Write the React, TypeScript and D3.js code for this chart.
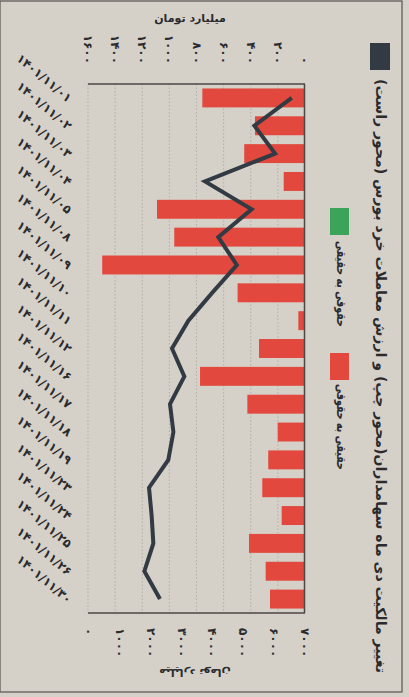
import React from "react";
import * as d3 from "d3";

const dates = [
  "۱۴۰۱/۱۱/۰۱", "۱۴۰۱/۱۱/۰۲", "۱۴۰۱/۱۱/۰۳", "۱۴۰۱/۱۱/۰۴", "۱۴۰۱/۱۱/۰۵",
  "۱۴۰۱/۱۱/۰۸", "۱۴۰۱/۱۱/۰۹", "۱۴۰۱/۱۱/۱۰", "۱۴۰۱/۱۱/۱۱", "۱۴۰۱/۱۱/۱۲",
  "۱۴۰۱/۱۱/۱۶", "۱۴۰۱/۱۱/۱۷", "۱۴۰۱/۱۱/۱۸", "۱۴۰۱/۱۱/۱۹", "۱۴۰۱/۱۱/۲۳",
  "۱۴۰۱/۱۱/۲۴", "۱۴۰۱/۱۱/۲۵", "۱۴۰۱/۱۱/۲۶", "۱۴۰۱/۱۱/۳۰",
];
// ownership change (real to legal), billion toman (left axis)
const realToLegal = [757, 369, 448, 157, 1091, 964, 1495, 497, 49, 339, 774, 425, 201, 271, 315, 172, 413, 290, 258];
// retail trading value (right axis)
const tradeValue = [6570, 5360, 6030, 3760, 5270, 4190, 4790, 3990, 3220, 2690, 3090, 2625, 2735, 2570, 1945, 2030, 2085, 1795, 2300];

const barTicks = [0, 200, 400, 600, 800, 1000, 1200, 1400, 1600];
const lineTicks = [0, 1000, 2000, 3000, 4000, 5000, 6000, 7000];

const title = "تغییر مالکیت دی ماه سهامداران(محور چپ) و ارزش معاملات خرد بورس (محور راست)";
const legendRed = "حقیقی به حقوقی";
const legendGreen = "حقوقی به حقیقی";
const unitLabel = "میلیارد تومان";

const toFa = (n: number) => String(n).replace(/\d/g, (d) => "۰۱۲۳۴۵۶۷۸۹"[+d]);

const FONT = "'DejaVu Sans', sans-serif";
const INK = "#2b2b2e";

export default function App() {
  const W = 409, H = 697;
  const x0 = 88, x1 = 305, y0 = 84, y1 = 613;
  const y = d3.scaleBand<string>().domain(dates).range([y0, y1]).paddingInner(0.32).paddingOuter(0.16);
  const xBar = d3.scaleLinear().domain([0, 1600]).range([x1, x0]);
  const xLine = d3.scaleLinear().domain([0, 7000]).range([x0 + 1, x1]);
  const line = d3.line<number>()
    .x((d) => xLine(d))
    .y((_, i) => (y(dates[i]) as number) + y.bandwidth() / 2);

  return (
    <svg width={W} height={H} style={{ position: "absolute", left: 0, top: 0 }} fontFamily={FONT}>
      <rect x={0} y={0} width={W} height={H} fill="#d5d1c9" />
      <rect x={0} y={1} width={402} height={691} fill="none" stroke="#55524e" strokeWidth={1.2} />

      {/* grid */}
      {barTicks.slice(1).map((t) => (
        <line key={t} x1={xBar(t)} x2={xBar(t)} y1={y0} y2={y1} stroke="#a9a59e" strokeWidth={0.8} strokeDasharray="1.5 2" />
      ))}

      {/* bars */}
      {realToLegal.map((v, i) => (
        <rect key={i} x={xBar(v)} y={y(dates[i])} width={xBar(0) - xBar(v)} height={y.bandwidth()} fill="#e2483d" />
      ))}

      {/* line */}
      <path d={line(tradeValue) || ""} fill="none" stroke="#323a44" strokeWidth={4} strokeLinejoin="miter" strokeLinecap="butt" />

      {/* plot frame */}
      <line x1={x0} x2={x1} y1={y0} y2={y0} stroke="#4a4744" strokeWidth={1.5} />
      <line x1={x0} x2={x1} y1={y1} y2={y1} stroke="#4a4744" strokeWidth={1.5} />
      <line x1={x1 - 0.5} x2={x1 - 0.5} y1={y0} y2={y1} stroke="#4a4744" strokeWidth={1.5} />

      {/* top axis labels */}
      {barTicks.map((t) => (
        <text key={t} transform={`translate(${xBar(t)},64) rotate(90)`} textAnchor="end" dominantBaseline="central"
          fontSize={12} fontWeight="bold" fill={INK}>{toFa(t)}</text>
      ))}
      <text x={190} y={18} textAnchor="middle" dominantBaseline="central" fontSize={11} fontWeight="bold" fill={INK} direction="rtl">{unitLabel}</text>

      {/* bottom axis labels */}
      {lineTicks.map((t) => (
        <text key={t} transform={`translate(${xLine(t)},628) rotate(90)`} textAnchor="start" dominantBaseline="central"
          fontSize={12} fontWeight="bold" fill={INK}>{toFa(t)}</text>
      ))}
      <text transform="translate(195,672) rotate(180)" textAnchor="middle" dominantBaseline="central" fontSize={11} fontWeight="bold" fill={INK} direction="rtl">{unitLabel}</text>

      {/* category labels */}
      {dates.map((d) => (
        <text key={d} transform={`translate(70,${(y(d) as number) + y.bandwidth() / 2 + 2}) rotate(40)`} textAnchor="end"
          dominantBaseline="central" fontSize={12} fontWeight="bold" fill={INK}>{d}</text>
      ))}

      {/* title + line legend */}
      <rect x={370} y={43} width={20} height={27} fill="#323a44" />
      <text transform="translate(381,376) rotate(90)" textAnchor="middle" dominantBaseline="central" fontSize={14} fontWeight="bold"
        fill={INK} direction="rtl" textLength={594} lengthAdjust="spacingAndGlyphs">{title}</text>

      {/* legend */}
      <rect x={330} y={208} width={19} height={27} fill="#3ba458" />
      <text transform="translate(341,284) rotate(90)" textAnchor="middle" dominantBaseline="central" fontSize={13} fontWeight="bold"
        fill={INK} direction="rtl" textLength={86} lengthAdjust="spacingAndGlyphs">{legendGreen}</text>
      <rect x={330} y={353} width={19} height={27} fill="#e2483d" />
      <text transform="translate(341,427) rotate(90)" textAnchor="middle" dominantBaseline="central" fontSize={13} fontWeight="bold"
        fill={INK} direction="rtl" textLength={86} lengthAdjust="spacingAndGlyphs">{legendRed}</text>
    </svg>
  );
}
